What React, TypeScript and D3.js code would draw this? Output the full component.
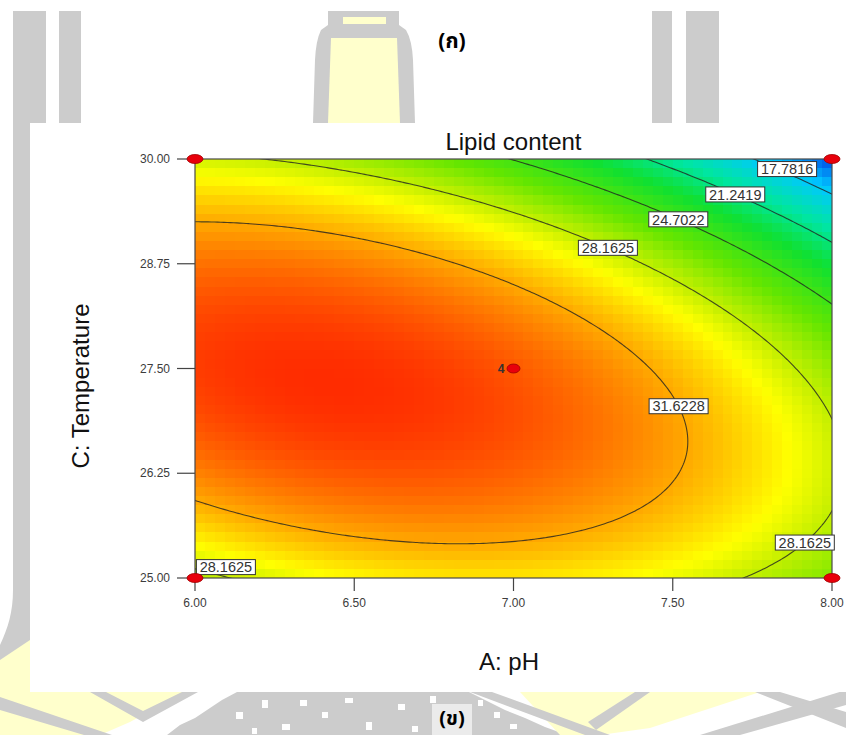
import React from "react";
import * as d3 from "d3";

// contour levels printed on the plot
const contourLevels = [17.7816, 21.2419, 24.7022, 28.1625, 31.6228];

// quadratic response surface, coded units:
// A = (pH - 7) / 1, C = (T - 27.5) / 2.5
const modelTerms = ["1", "A", "C", "AC", "A^2", "C^2"];
const modelCoefs = [33.74, -3.665, -2.72, -3.17, -2.96, -6.4];

const xTicks = [6.0, 6.5, 7.0, 7.5, 8.0];
const yTicks = [25.0, 26.25, 27.5, 28.75, 30.0];

// design points
const pointPH = [6, 8, 6, 8, 7];
const pointT = [30, 30, 25, 25, 27.5];
const pointRuns = [1, 1, 1, 1, 4];

// where the contour labels sit (data units, snapped to the line)
const labelLevel = [17.7816, 21.2419, 24.7022, 28.1625, 31.6228, 28.1625, 28.1625];
const labelPH = [7.859, 7.702, 7.523, 7.303, 7.545, 7.9, 6.097];
const labelT = [29.88, 29.63, 29.34, 29.03, 27.09, 25.47, 25.13];

// colour ramp (value -> colour)
const rampValues = [14.8, 17.5, 20.5, 23.0, 26.0, 28.3, 29.5, 31.6, 33.7, 35];
const rampColors = ["#0046e6", "#00c8ff", "#00e6a0", "#10e030", "#64e600", "#c8f000", "#ffff00", "#ffaa00", "#ff5a00", "#ff2800"];

const FONT = "'Liberation Sans', Arial, sans-serif";
const THAI = "'Noto Sans Thai', Tahoma, 'DejaVu Sans', sans-serif";
const GRAY = "#cccccc";
const YEL = "#ffffcc";

function predict(pH: number, T: number) {
  const a = pH - 7;
  const c = (T - 27.5) / 2.5;
  const t = [1, a, c, a * c, a * a, c * c];
  return d3.sum(modelTerms, (_, i) => t[i] * modelCoefs[i]);
}

// white specks in the watermark block pattern
const specks = [
  [300, 700, 7, 6], [322, 712, 6, 6], [345, 698, 8, 5], [366, 722, 6, 8], [398, 704, 7, 6],
  [412, 726, 6, 6], [236, 712, 7, 7], [262, 700, 6, 8], [282, 724, 8, 6], [252, 728, 5, 6],
  [494, 712, 6, 6], [510, 724, 7, 5], [478, 700, 5, 6], [430, 696, 6, 7],
];

export default function App() {
  const W = 846, H = 735;
  const left = 195, right = 832, top = 159, bottom = 578;
  const x = d3.scaleLinear().domain([6, 8]).range([left, right]);
  const y = d3.scaleLinear().domain([25, 30]).range([bottom, top]);
  const color = d3.scaleLinear<string>().domain(rampValues).range(rampColors).interpolate(d3.interpolateRgb).clamp(true);

  // pixelated surface
  const nCols = 64, nRows = 46;
  const cw = (right - left) / nCols, ch = (bottom - top) / nRows;
  const cells: { px: number; py: number; v: number }[] = [];
  for (let j = 0; j < nRows; j++) {
    for (let i = 0; i < nCols; i++) {
      const pH = x.invert(left + (i + 0.5) * cw);
      const T = y.invert(top + (j + 0.5) * ch);
      cells.push({ px: left + i * cw, py: top + j * ch, v: predict(pH, T) });
    }
  }

  // contour lines on a finer grid, slightly wider than the plot
  const nx = 220, ny = 180;
  const gx = d3.scaleLinear().domain([0.5, nx - 0.5]).range([5.9, 8.1]);
  const gy = d3.scaleLinear().domain([0.5, ny - 0.5]).range([30.1, 24.9]);
  const values = new Array(nx * ny);
  for (let j = 0; j < ny; j++) for (let i = 0; i < nx; i++) values[j * nx + i] = predict(gx(i + 0.5), gy(j + 0.5));
  const contours = d3.contours().size([nx, ny]).thresholds(contourLevels)(values);
  const proj = d3.geoTransform({
    point(px: number, py: number) {
      this.stream.point(x(gx(px)), y(gy(py)));
    },
  });
  const pathGen = d3.geoPath(proj);

  const labels = labelLevel.map((lv, k) => {
    const ax = x(labelPH[k]), ay = y(labelT[k]);
    // labels squeezed against the frame stay where they are
    const nearEdge = ax - left < 12 || right - ax < 12 || ay - top < 12 || bottom - ay < 12;
    const cont = contours.find((c) => Math.abs(c.value - lv) < 1e-6);
    let best = [ax, ay], bd = Infinity;
    if (cont && !nearEdge) {
      cont.coordinates.forEach((poly) =>
        poly.forEach((ring) =>
          ring.forEach(([px, py]) => {
            const sx = x(gx(px)), sy = y(gy(py));
            if (sx < left || sx > right || sy < top || sy > bottom) return;
            const d = (sx - ax) ** 2 + (sy - ay) ** 2;
            if (d < bd) { bd = d; best = [sx, sy]; }
          })
        )
      );
    }
    return { text: lv.toFixed(4), cx: best[0], cy: best[1] };
  });

  return (
    <svg width={W} height={H} style={{ position: "absolute", left: 0, top: 0, display: "block", background: "#fff" }}>
      <defs>
        <clipPath id="plotClip">
          <rect x={left} y={top} width={right - left} height={bottom - top} />
        </clipPath>
      </defs>

      {/* watermark behind the figure */}
      <g>
        <path d="M13,11 H46 V600 C40,640 25,668 0,690 V645 C8,628 13,612 13,590 Z" fill={GRAY} />
        <rect x={59} y={11} width={22} height={112} fill={GRAY} />
        <rect x={652} y={11} width={20} height={112} fill={GRAY} />
        <rect x={686} y={11} width={33} height={112} fill={GRAY} />
        <path d="M328,11 H399 V25 L406,30 Q412,40 413,60 L415,123 H313 L315,60 Q316,40 321,30 L328,25 Z" fill={GRAY} />
        <path d="M331,38 H397 L400,123 H328 Z" fill={YEL} />
        <rect x={343} y={17} width={43} height={7} fill={YEL} />
        <polygon points="0,660 30,640 30,692 0,692" fill={YEL} />
        {/* bottom strip */}
        <polygon points="0,692 185,692 130,722 100,735 0,735" fill={YEL} />
        <polygon points="0,697 0,710 84,735 112,735" fill={GRAY} />
        <polygon points="90,692 106,692 143,711 182,692 198,692 143,722" fill={GRAY} />
        <polygon points="167,735 180,725 195,718 210,708 222,700 237,692 469,692 485,700 505,710 525,718 545,727 567,735" fill={GRAY} />
        {specks.map(([sx, sy, sw, sh], i) => (
          <rect key={i} x={sx} y={sy} width={sw} height={sh} fill="#fff" />
        ))}
        <rect x={432} y={704} width={40} height={31} fill="#fff" opacity={0.6} />
        <polygon points="520,692 760,692 650,728 600,735 560,735" fill={YEL} />
        <polygon points="470,692 492,692 610,735 585,735" fill={GRAY} />
        <polygon points="588,722 635,692 650,692 596,730" fill={GRAY} />
        <polygon points="755,692 780,692 846,712 846,728" fill={GRAY} />
        <polygon points="700,735 846,690 846,705 740,735" fill={GRAY} />
      </g>

      {/* white figure panel */}
      <rect x={30} y={123} width={816} height={569} fill="#fff" />

      {/* surface */}
      <g clipPath="url(#plotClip)" shapeRendering="crispEdges">
        {cells.map((c, i) => (
          <rect key={i} x={c.px} y={c.py} width={cw + 0.6} height={ch + 0.6} fill={color(c.v)} />
        ))}
      </g>

      {/* contour lines */}
      <g clipPath="url(#plotClip)" fill="none" stroke="#222" strokeOpacity={0.8} strokeWidth={1.1}>
        {contours.map((c, i) => (
          <path key={i} d={pathGen(c as any) || ""} />
        ))}
      </g>

      {/* frame */}
      <rect x={left} y={top} width={right - left} height={bottom - top} fill="none" stroke="#4a4a4a" strokeWidth={1.2} />

      {/* axes */}
      <g fontFamily={FONT} fontSize={12} fill="#3c3c3c">
        {yTicks.map((t) => (
          <g key={t}>
            <line x1={left - 18} x2={left} y1={y(t)} y2={y(t)} stroke="#444" strokeWidth={1.2} />
            <text x={left - 25} y={y(t)} dy="0.35em" textAnchor="end">{t.toFixed(2)}</text>
          </g>
        ))}
        {xTicks.map((t) => (
          <g key={t}>
            <line x1={x(t)} x2={x(t)} y1={bottom} y2={bottom + 13} stroke="#444" strokeWidth={1.2} />
            <text x={x(t)} y={607} textAnchor="middle">{t.toFixed(2)}</text>
          </g>
        ))}
      </g>

      {/* contour labels */}
      <g fontFamily={FONT} fontSize={14.5}>
        {labels.map((l, i) => (
          <g key={i}>
            <rect x={l.cx - 29.5} y={l.cy - 7.5} width={59} height={15} fill="#fff" stroke="#333" strokeWidth={1} />
            <text x={l.cx} y={l.cy} dy="0.36em" textAnchor="middle" fill="#333">{l.text}</text>
          </g>
        ))}
      </g>

      {/* design points */}
      <g>
        {pointPH.map((p, i) => (
          <g key={i}>
            <ellipse cx={x(p)} cy={y(pointT[i])} rx={pointRuns[i] > 1 ? 6.5 : 8} ry={4.5} fill="#e8000b" stroke="#a00000" strokeWidth={0.8} />
            {pointRuns[i] > 1 && (
              <text x={x(p) - 9} y={y(pointT[i])} dy="0.35em" textAnchor="end" fontFamily={FONT} fontSize={12} fontWeight="bold" fill="#333">
                {pointRuns[i]}
              </text>
            )}
          </g>
        ))}
      </g>

      {/* titles */}
      <text x={(left + right) / 2} y={150} textAnchor="middle" fontFamily={FONT} fontSize={24} fill="#111">Lipid content</text>
      <text transform={`translate(89,386) rotate(-90)`} textAnchor="middle" fontFamily={FONT} fontSize={24} fill="#111">C: Temperature</text>
      <text x={509} y={670} textAnchor="middle" fontFamily={FONT} fontSize={24} fill="#111">A: pH</text>

      <text x={452} y={48} textAnchor="middle" fontFamily={THAI} fontSize={21} fontWeight="bold" fill="#000">(ก)</text>
      <text x={452} y={725} textAnchor="middle" fontFamily={THAI} fontSize={20} fontWeight="bold" fill="#000">(ข)</text>
    </svg>
  );
}
